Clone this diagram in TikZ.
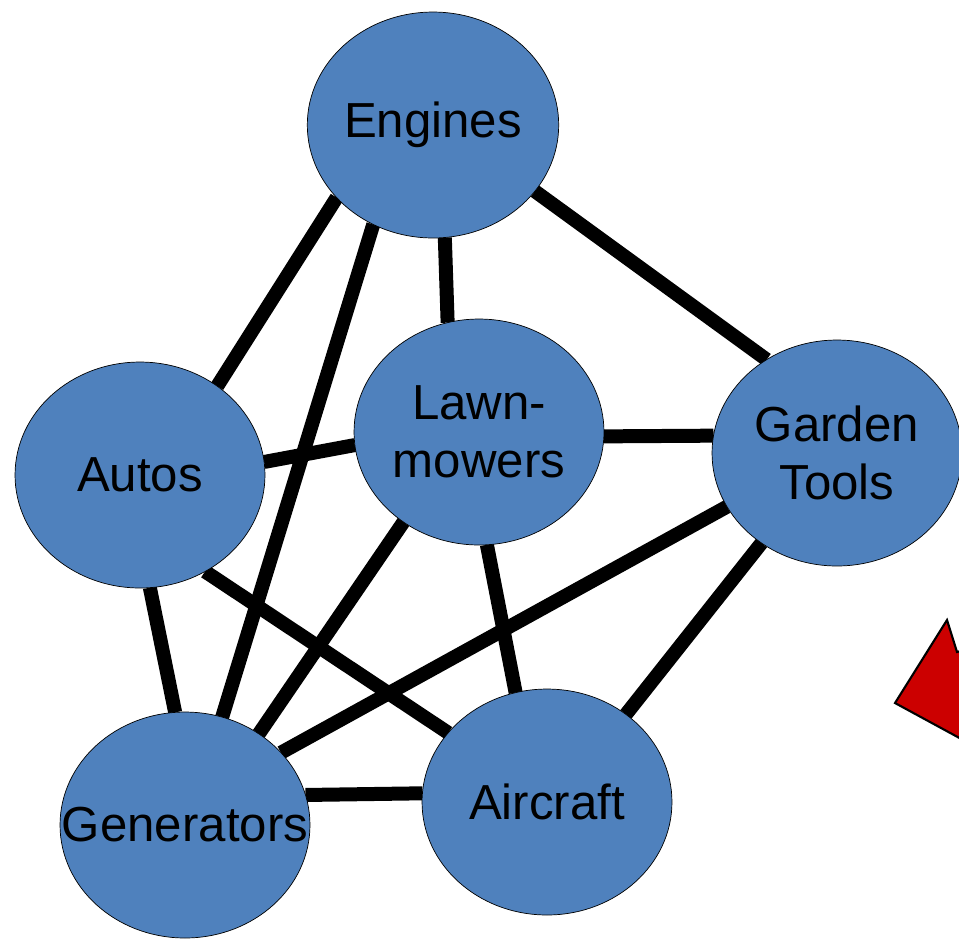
\documentclass[tikz,border=0pt]{standalone}
\usepackage{fontspec}
\setmainfont{Liberation Sans}
\usetikzlibrary{shapes,backgrounds}

\definecolor{topicblue}{RGB}{79,129,189}
\definecolor{arrowred}{RGB}{204,0,0}

\begin{document}
\begin{tikzpicture}[x=0.02cm,y=-0.02cm,
                    topic/.style={ellipse,
                                  inner sep=0mm,outer sep=0,
                                  draw=black, thin,
                                  fill=topicblue,
                                  minimum width=5cm,
                                  minimum height=4.52cm,
                                  align=center,
                                  font=\fontsize{28}{33}\selectfont
                                 },
                    topicconnection/.style={
                                  line width=0.28cm,
                                  draw=black
                                 }
                   ]
  \useasboundingbox (0,0) rectangle (959,938);

  \node[topic] (eng)  at (433,125) {Engines};
  \node[topic] (aut)  at (140,475) {Autos};
  \node[topic] (lawn) at (479,432) {Lawn-\\mowers};
  \node[topic] (gard) at (837,453) {Garden\\Tools};
  % label is wider than the ellipse, keep the ellipse size fixed
  \node[topic] (gen)  at (185,825) {\makebox[0pt]{Generators}};
  \node[topic] (air)  at (547,802) {Aircraft};

  \begin{scope}[on background layer]
    \draw [topicconnection] (eng.217) -- (aut.49);
    \draw [topicconnection] (eng.239) -- (gen.71);
    \draw [topicconnection] (eng.276) -- (lawn.106);
    \draw [topicconnection] (eng.327) -- (gard.127);
    \draw [topicconnection] (aut.6) -- (lawn.186);
    \draw [topicconnection] (aut.275) -- (gen.95);
    \draw [topicconnection] (aut.304) -- (air.145);
    \draw [topicconnection] (lawn.358) -- (gard.172);
    \draw [topicconnection] (lawn.230) -- (gen.51);
    \draw [topicconnection] (lawn.274) -- (air.106);
    \draw [topicconnection] (gard.206) -- (gen.37);
    \draw [topicconnection] (gard.230) -- (air.48);
    \draw [topicconnection] (gen.14) -- (air.176);
  \end{scope}

  % block arrow running off the right edge
  \begin{scope}
    \clip (0,0) rectangle (959,938);
    \draw[fill=arrowred, line width=1.2pt, line join=miter]
      (895,703) -- (947,620) -- (957,652) -- (1040,630) -- (1070,740) -- (1000,760) -- cycle;
  \end{scope}
\end{tikzpicture}
\end{document}
